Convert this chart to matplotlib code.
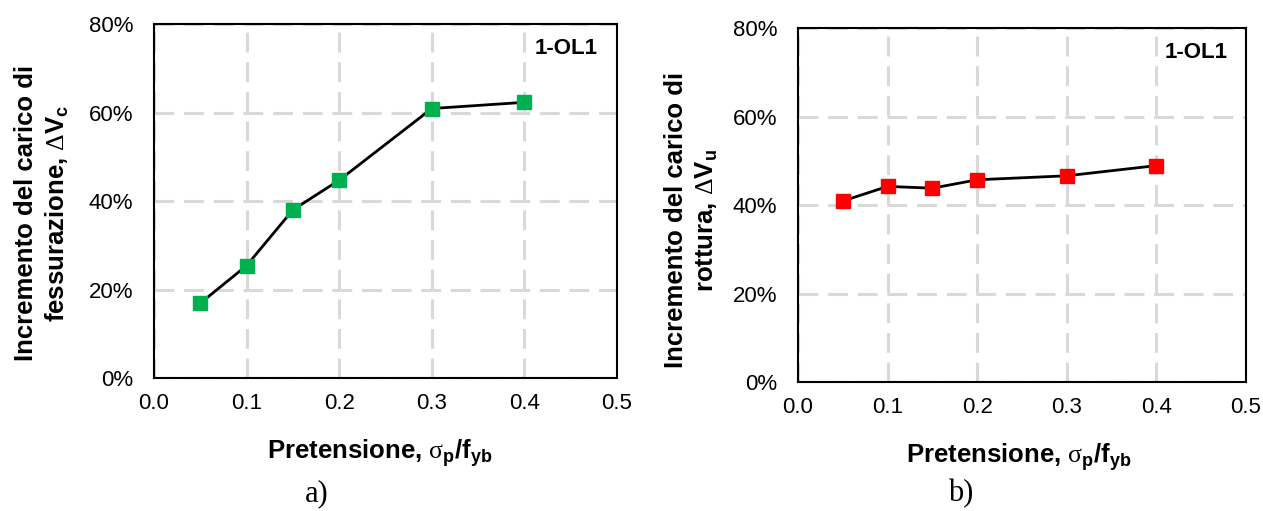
import matplotlib
matplotlib.use("Agg")
import matplotlib.pyplot as plt
from matplotlib.ticker import FuncFormatter

plt.rcParams["font.family"] = ["Liberation Sans", "DejaVu Sans"]
plt.rcParams["mathtext.fontset"] = "custom"
plt.rcParams["mathtext.rm"] = "Liberation Serif"
plt.rcParams["mathtext.bf"] = "Liberation Sans:bold"
plt.rcParams["mathtext.it"] = "Liberation Sans:italic"

# Pre-tension ratio sigma_p / f_yb
pretension = [0.05, 0.10, 0.15, 0.20, 0.30, 0.40]
# Increase of cracking load (a) and ultimate load (b), as fractions
delta_vc = [0.169, 0.254, 0.380, 0.447, 0.609, 0.623]
delta_vu = [0.409, 0.442, 0.438, 0.457, 0.466, 0.489]

x_ticks = [0.0, 0.1, 0.2, 0.3, 0.4, 0.5]
y_ticks = [0.0, 0.2, 0.4, 0.6, 0.8]
specimen = "1-OL1"
panel_tags = ["a)", "b)"]
ylabels = [
    "Incremento del carico di\nfessurazione, $\\mathrm{\\Delta}\\mathbf{V_c}$",
    "Incremento del carico di\nrottura, $\\mathrm{\\Delta}\\mathbf{V_u}$",
]
xlabel = "Pretensione, $\\mathrm{\\sigma}_\\mathbf{p}\\mathbf{/f}_\\mathbf{yb}$"

fig = plt.figure(figsize=(12.63, 5.11), dpi=100)
ax_a = fig.add_axes([154 / 1263, 1 - 378 / 511, (617 - 154) / 1263, (378 - 24) / 511])
ax_b = fig.add_axes([798 / 1263, 1 - 382 / 511, (1246 - 798) / 1263, (382 - 28) / 511])

series = [(ax_a, delta_vc, "#00B050"), (ax_b, delta_vu, "#FF0000")]
ylabel_xy = [(-0.18, 0.466), (-0.175, 0.457)]
xlabel_xy = [(0.487, -0.168), (0.493, -0.168)]
tag_x = [317, 961]

for i, (ax, vals, col) in enumerate(series):
    ax.plot(pretension, vals, color="black", lw=2.0, zorder=3)
    ax.plot(pretension, vals, ls="none", marker="s", ms=10.5,
            mfc=col, mec=col, zorder=4)
    ax.set_xlim(0, 0.5)
    ax.set_ylim(0, 0.8)
    ax.set_xticks(x_ticks)
    ax.set_yticks(y_ticks)
    ax.xaxis.set_major_formatter(FuncFormatter(lambda v, p: f"{v:.1f}"))
    ax.yaxis.set_major_formatter(FuncFormatter(lambda v, p: f"{v * 100:.0f}%"))
    ax.tick_params(length=0, labelsize=16)
    ax.tick_params(axis="x", pad=11)
    ax.tick_params(axis="y", pad=15)
    ax.grid(True, color="#d9d9d9", lw=2.2, ls=(0, (6.5, 3.2)))
    ax.set_axisbelow(True)
    for s in ax.spines.values():
        s.set_linewidth(1.5)
        s.set_color("black")
    ax.set_xlabel(xlabel, fontsize=18.5, fontweight="bold")
    ax.xaxis.set_label_coords(*xlabel_xy[i])
    ax.set_ylabel(ylabels[i], fontsize=18.5, fontweight="bold", linespacing=1.25)
    ax.yaxis.set_label_coords(*ylabel_xy[i])
    ax.text(0.958, 0.932, specimen, transform=ax.transAxes, ha="right", va="center",
            fontsize=16, fontweight="bold")
    fig.text(tag_x[i] / 1263, 1 - 494 / 511, panel_tags[i], fontsize=22,
             family="Liberation Serif", ha="center", va="center")

fig.savefig("out.png", dpi=100, facecolor="white")
